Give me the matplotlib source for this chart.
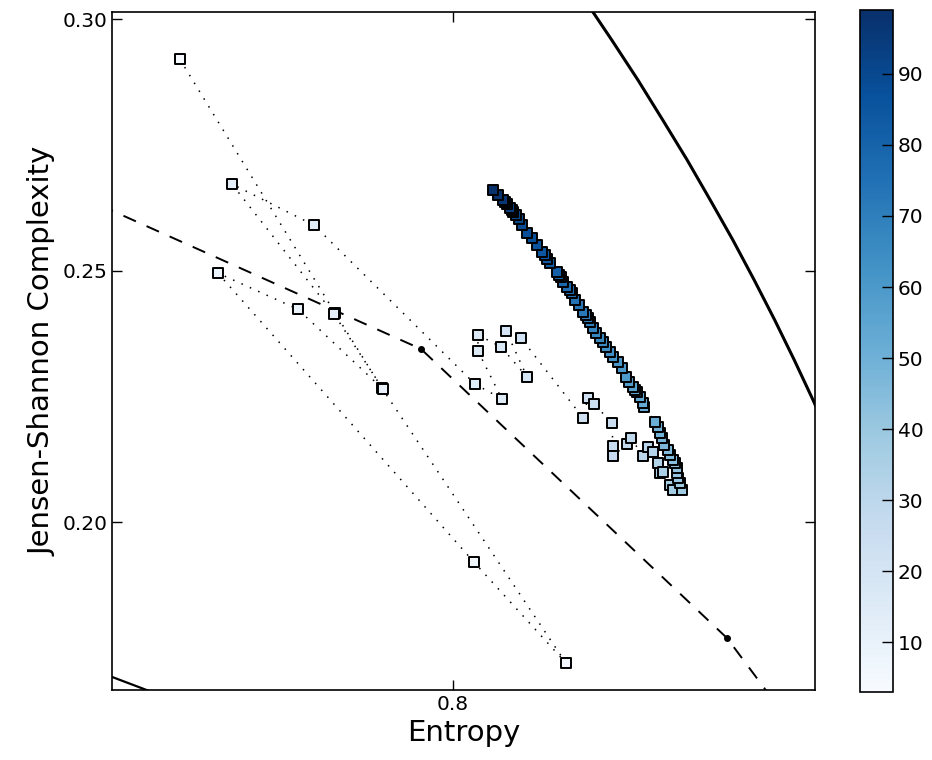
import matplotlib
matplotlib.use('Agg')
import matplotlib.pyplot as plt
import numpy as np
from matplotlib.ticker import FormatStrFormatter

# trajectory in the complexity-entropy plane, one point per window
entropy = [0.7223, 0.7664, 0.7798, 0.8321, 0.8060, 0.7331, 0.7559, 0.7801, 0.7661, 0.7371,
           0.7605, 0.8063, 0.8139, 0.8071, 0.8071, 0.8137, 0.8211, 0.8151, 0.8193, 0.8370,
           0.8384, 0.8401, 0.8452, 0.8455, 0.8455, 0.8495, 0.8506, 0.8541, 0.8555, 0.8569,
           0.8583, 0.8589, 0.8597, 0.8617, 0.8626,
           0.8652, 0.8646, 0.8640, 0.8637, 0.8637, 0.8632, 0.8626, 0.8617, 0.8612, 0.8600,
           0.8595, 0.8589, 0.8583, 0.8575, 0.8543, 0.8541, 0.8532, 0.8523, 0.8518, 0.8512,
           0.8501, 0.8492, 0.8481, 0.8469, 0.8455, 0.8447, 0.8435, 0.8427, 0.8418, 0.8407,
           0.8398, 0.8390, 0.8384, 0.8378, 0.8370, 0.8358, 0.8347, 0.8339, 0.8333, 0.8324,
           0.8313, 0.8307, 0.8302, 0.8296, 0.8276, 0.8267, 0.8262, 0.8253, 0.8239, 0.8225,
           0.8211, 0.8196, 0.8188, 0.8179, 0.8171, 0.8168, 0.8162, 0.8154, 0.8148, 0.8142,
           0.8128, 0.8114]
complexity = [0.2920, 0.2416, 0.2266, 0.1720, 0.1920, 0.2495, 0.2423, 0.2264, 0.2414, 0.2672,
              0.2590, 0.2274, 0.2245, 0.2340, 0.2372, 0.2348, 0.2288, 0.2380, 0.2366, 0.2207,
              0.2247, 0.2235, 0.2197, 0.2151, 0.2131, 0.2155, 0.2167, 0.2131, 0.2149, 0.2139,
              0.2117, 0.2097, 0.2099, 0.2074, 0.2064,
              0.2064, 0.2078, 0.2087, 0.2097, 0.2107, 0.2117, 0.2123, 0.2133, 0.2143, 0.2153,
              0.2167, 0.2177, 0.2189, 0.2199, 0.2229, 0.2237, 0.2249, 0.2258, 0.2262, 0.2268,
              0.2278, 0.2288, 0.2306, 0.2318, 0.2328, 0.2338, 0.2348, 0.2358, 0.2366, 0.2376,
              0.2386, 0.2398, 0.2406, 0.2412, 0.2418, 0.2431, 0.2441, 0.2455, 0.2461, 0.2467,
              0.2477, 0.2487, 0.2491, 0.2497, 0.2515, 0.2523, 0.2531, 0.2537, 0.2551, 0.2565,
              0.2575, 0.2590, 0.2602, 0.2610, 0.2616, 0.2620, 0.2624, 0.2632, 0.2636, 0.2640,
              0.2650, 0.2660]
step = np.arange(3, 3 + len(entropy))

# dashed reference path with its breakpoints
trend_h = [0.680, 0.7909, 0.8780, 0.8995]
trend_c = [0.2691, 0.2344, 0.1769, 0.1567]

# upper and lower bounds of the plane
cmax_h = [0.8375, 0.8452, 0.8526, 0.8597, 0.8666, 0.8732, 0.8796, 0.8857,
          0.8915, 0.8971, 0.9024, 0.9075]
cmax_c = [0.3038, 0.2958, 0.2879, 0.2799, 0.2720, 0.2640, 0.2561, 0.2481,
          0.2402, 0.2322, 0.2243, 0.2163]
cmin_h = [0.6996, 0.7166]
cmin_c = [0.1701, 0.1656]

plt.rcParams['font.family'] = 'DejaVu Sans'
plt.rcParams['xtick.direction'] = 'in'
plt.rcParams['ytick.direction'] = 'in'
plt.rcParams['xtick.top'] = True
plt.rcParams['ytick.right'] = True

fig = plt.figure(figsize=(9.32, 7.6), dpi=100)
ax = fig.add_axes([0.1202, 0.0921, 0.7543, 0.8921])
cax = fig.add_axes([0.9227, 0.0895, 0.0354, 0.8974])

ax.plot(cmax_h, cmax_c, color='k', lw=2.2)
ax.plot(cmin_h, cmin_c, color='k', lw=1.6)
ax.plot(trend_h, trend_c, color='k', lw=1.4, ls=(0, (7, 6)), marker='.', markersize=8)
ax.plot(entropy, complexity, color='k', lw=1.1, ls=(0, (1, 5)), zorder=2)
sc = ax.scatter(entropy, complexity, c=step, cmap='Blues', marker='s', s=50,
                edgecolors='k', linewidths=1.4, zorder=3)

ax.set_xlim(0.7030, 0.9030)
ax.set_ylim(0.1666, 0.3014)
ax.set_xticks([0.8])
ax.set_yticks([0.20, 0.25, 0.30])
ax.xaxis.set_major_formatter(FormatStrFormatter('%.1f'))
ax.yaxis.set_major_formatter(FormatStrFormatter('%.2f'))
ax.tick_params(labelsize=14.5, length=7, width=1)
ax.set_xlabel('Entropy', fontsize=21)
ax.set_ylabel('Jensen-Shannon Complexity', fontsize=21)
for sp in ax.spines.values():
    sp.set_linewidth(1.2)

cb = fig.colorbar(sc, cax=cax)
cb.set_ticks([10, 20, 30, 40, 50, 60, 70, 80, 90])
cb.ax.tick_params(labelsize=14.5, direction='in', length=8, width=1)
cb.outline.set_linewidth(1.2)

fig.savefig('out.png', dpi=100)
